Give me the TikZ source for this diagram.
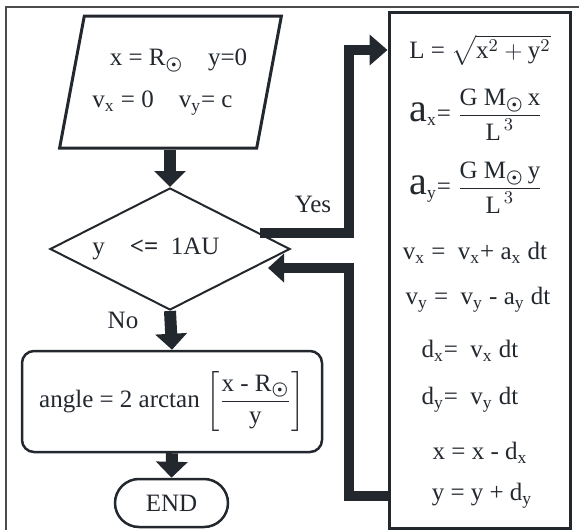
\documentclass[tikz,border=0pt]{standalone}
\usepackage{amsmath,amssymb}
\usepackage{fontspec}
\setmainfont{Liberation Serif}
\usetikzlibrary{arrows.meta,shapes.geometric,positioning,calc}
\definecolor{ink}{HTML}{23282F}
\newcommand{\sunsub}{$_{\boldsymbol{\odot}}$}
\newcommand{\biga}{{\fontsize{20}{20}\selectfont a}}

\begin{document}
\begin{tikzpicture}[x=0.5pt, y=-0.5pt, text=ink,
    every node/.style={font=\fontsize{12.5}{15}\selectfont},
    io/.style={trapezium, trapezium left angle=73, trapezium right angle=107,
    trapezium stretches=true, draw=ink, line width=1.5pt,
    minimum width=111pt, minimum height=66pt, align=center},
    decision/.style={diamond, draw=ink, line width=1pt, aspect=2,
    minimum width=120pt, minimum height=61pt, inner sep=0pt},
    process/.style={rectangle, draw=ink, line width=1.25pt, rounded corners=6pt,
    minimum width=150pt, minimum height=50.5pt},
    terminal/.style={rectangle, draw=ink, line width=1.25pt, rounded corners=12pt,
    minimum width=56.5pt, minimum height=24pt},
    calcbox/.style={rectangle, draw=ink, line width=1.5pt,
    minimum width=90.5pt, minimum height=258pt},
    eq/.style={inner sep=0pt},
    arrow/.style={-{Triangle[width=15.5pt,length=8pt]}, line width=6pt, draw=ink},
    looparrow/.style={-{Triangle[width=14pt,length=8pt]}, line width=5pt, draw=ink}]

    \useasboundingbox (0,0) rectangle (579,530);

    % Frame
    \draw[black!70, line width=1pt] (6,530) -- (6,7) -- (579,7);

    % Start values
    \node[io] (start) at (170.5,82)
      {\hspace*{8pt}x = R\sunsub\quad y=0\\[6pt]
       v\textsubscript{x} = 0\quad v\textsubscript{y}= c\hspace*{8pt}};

    % Test
    \node[decision] (cond) at (170,249) {y\quad\textbf{<=}\ \ 1AU\hspace*{14pt}};

    % Angle
    \node[process] (angle) at (172,401.5)
      {angle = 2 arctan $\left[\dfrac{\mbox{x - R\sunsub}}{\mbox{y}}\right]$};

    % End
    \node[terminal] (stop) at (171.5,503) {END};

    % Step box
    \node[calcbox] (calc) at (479.5,270) {};
    \node[eq] (eqL) at (480,50) {L = $\sqrt{\mbox{x}^{2}+\mbox{y}^{2}}$};
    \node[eq] (eqAx) at (476,115)
      {\biga\textsubscript{x}= $\dfrac{\mbox{G M\sunsub\,x}}{\mbox{L}^{\,3}}$};
    \node[eq] (eqAy) at (476,188)
      {\biga\textsubscript{y}= $\dfrac{\mbox{G M\sunsub\,y}}{\mbox{L}^{\,3}}$};
    \node[eq] (eqVx) at (475,253) {v\textsubscript{x} = \ v\textsubscript{x}+ a\textsubscript{x} dt};
    \node[eq] (eqVy) at (478,300) {v\textsubscript{y} = \ v\textsubscript{y} - a\textsubscript{y} dt};
    \node[eq] (eqDx) at (470,351) {d\textsubscript{x}= \ v\textsubscript{x} dt};
    \node[eq] (eqDy) at (470,400) {d\textsubscript{y}= \ v\textsubscript{y} dt};
    \node[eq] (eqX) at (480,453) {x = x - d\textsubscript{x}};
    \node[eq] (eqY) at (482,496) {y = y + d\textsubscript{y}};

    % Labels
    \node (lblYes) at (313,204) {Yes};
    \node (lblNo) at (123,320) {No};

    % Bends
    \coordinate (yesbend) at (349,50);
    \coordinate (backbend) at (349,268);
    \coordinate (backtip) at (268,268);

    \draw[arrow] (start.south -| cond.north) -- (cond.north);
    \draw[arrow] (cond.south) -- (angle.north);
    \draw[arrow] (angle.south) -- (stop.north);

    \draw[looparrow, -{Triangle[width=15pt,length=9pt]}] (cond.10) -| (yesbend) -- (calc.west |- eqL);
    \draw[looparrow] (calc.west |- eqY) -| (backbend) -- (backtip);
\end{tikzpicture}
\end{document}
